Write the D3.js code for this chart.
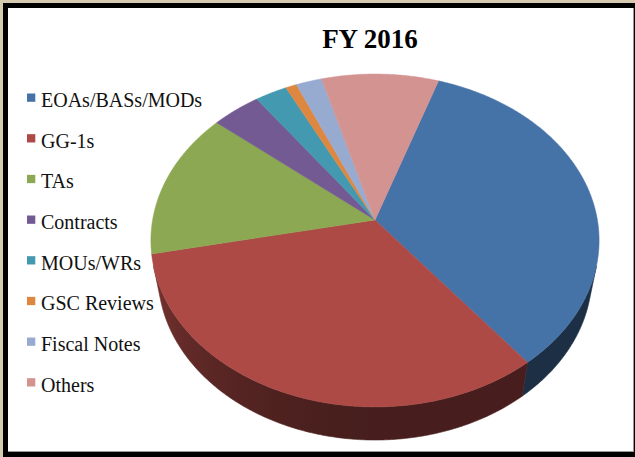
<!DOCTYPE html>
<html>
<head>
<meta charset="utf-8">
<script src="https://cdn.jsdelivr.net/npm/d3@7"></script>
<style>
  html, body { margin: 0; padding: 0; background: #d6cbb1; }
  svg { display: block; }
</style>
</head>
<body>
<svg id="chart" width="635" height="457"></svg>
<script>
// slice data (share per mille)
const categories = ['EOAs/BASs/MODs', 'GG-1s', 'TAs', 'Contracts', 'MOUs/WRs', 'GSC Reviews', 'Fiscal Notes', 'Others'];
const values = [342, 324, 143, 40, 26, 9, 21, 95];
const colours = ['#4673a7', '#ad4a46', '#8ca852', '#735a92', '#4399af', '#de8740', '#97aad0', '#d39391'];
const title = 'FY 2016';

const svg = d3.select('#chart');
const width = +svg.attr('width');
const height = +svg.attr('height');
const defs = svg.append('defs');

// frame
svg.append('rect').attr('x', 0).attr('y', 0).attr('width', width).attr('height', height).attr('fill', '#d6cbb1');
svg.append('rect').attr('x', 3).attr('y', 3).attr('width', width - 3).attr('height', height - 3).attr('fill', '#000');
svg.append('rect').attr('x', 8).attr('y', 8).attr('width', 626).attr('height', 444).attr('fill', '#999');
svg.append('rect').attr('x', 8).attr('y', 8).attr('width', 625).attr('height', 443).attr('fill', '#fff');

// title
svg.append('text')
  .attr('x', 370).attr('y', 48)
  .attr('text-anchor', 'middle')
  .style('font-family', '"Liberation Serif", "Times New Roman", serif')
  .style('font-weight', 'bold')
  .style('font-size', '27px')
  .text(title);

// legend
const legend = svg.append('g').attr('class', 'legend');
const rows = legend.selectAll('g').data(categories).join('g')
  .attr('transform', (d, i) => `translate(27, ${107 + i * 40.67})`);
rows.append('rect')
  .attr('x', 0).attr('y', -13.5).attr('width', 8.3).attr('height', 8.3)
  .attr('fill', (d, i) => colours[i]);
rows.append('text')
  .attr('x', 14).attr('y', 0)
  .style('font-family', '"Liberation Serif", "Times New Roman", serif')
  .style('font-size', '20px')
  .attr('fill', '#111')
  .text(d => d);

// 3D pie with a simple perspective camera
const cx = 375, cy = 220, f = 1221, D = 5.49;
const sA = 0.737, cA = 0.675, depthH = 0.241;
const project = (X, Y, Z) => {
  const dep = D - Z * cA - Y * sA;
  return [cx + f * X / dep, cy + f * (Z * sA - Y * cA) / dep];
};
const rim = (a, Y) => project(Math.sin(a), Y, -Math.cos(a));

const start = 18.6 * Math.PI / 180;
const arcs = d3.pie().sort(null).value(d => d)
  .startAngle(start).endAngle(start + 2 * Math.PI)(values);

const line = d3.line();
const step = Math.PI / 360;

// visible part of the side wall
const zSil = 1 / (D * cA);
const sideLo = Math.acos(-zSil), sideHi = 2 * Math.PI - Math.acos(-zSil);

const shade = (col, a) => {
  const deg = a * 180 / Math.PI;
  const t = Math.max(0, Math.min(1, (deg - 180) / 75));
  const k = 0.41 + 0.29 * Math.pow(t, 1.6);
  const c = d3.rgb(col);
  return d3.rgb(c.r * k, c.g * k, c.b * k).formatHex();
};

const gx0 = 130, gx1 = 620;
const sideG = svg.append('g').attr('class', 'sides');
arcs.forEach((d, i) => {
  const segs = [];
  [[d.startAngle, d.endAngle], [d.startAngle - 2 * Math.PI, d.endAngle - 2 * Math.PI]].forEach(([p, q]) => {
    const lo = Math.max(p, sideLo), hi = Math.min(q, sideHi);
    if (hi > lo) segs.push([lo, hi]);
  });
  segs.forEach(([lo, hi], k) => {
    const n = Math.max(2, Math.ceil((hi - lo) / step));
    const angs = d3.range(n + 1).map(j => lo + (hi - lo) * j / n);
    // horizontal gradient following the lighting along the wall
    const id = `side-${i}-${k}`;
    const stops = angs.filter((a, j) => j % 6 === 0 || j === n)
      .map(a => ({ off: (rim(a, 0)[0] - gx0) / (gx1 - gx0), col: shade(colours[i], a) }))
      .sort((p, q) => p.off - q.off);
    defs.append('linearGradient').attr('id', id)
      .attr('gradientUnits', 'userSpaceOnUse')
      .attr('x1', gx0).attr('x2', gx1).attr('y1', 0).attr('y2', 0)
      .selectAll('stop').data(stops).join('stop')
      .attr('offset', s => s.off)
      .attr('stop-color', s => s.col);
    const pts = angs.map(a => rim(a, 0)).concat(angs.slice().reverse().map(a => rim(a, -depthH)));
    sideG.append('path')
      .attr('d', line(pts) + 'Z')
      .attr('fill', `url(#${id})`)
      .attr('stroke', `url(#${id})`)
      .attr('stroke-width', 0.6);
  });
});

// top faces
svg.append('g').attr('class', 'tops')
  .selectAll('path').data(arcs).join('path')
  .attr('d', d => {
    const pts = [project(0, 0, 0)];
    for (let a = d.startAngle; a < d.endAngle; a += step) pts.push(rim(a, 0));
    pts.push(rim(d.endAngle, 0));
    return line(pts) + 'Z';
  })
  .attr('fill', (d, i) => colours[i])
  .attr('stroke', (d, i) => colours[i])
  .attr('stroke-width', 0.5);
</script>
</body>
</html>
